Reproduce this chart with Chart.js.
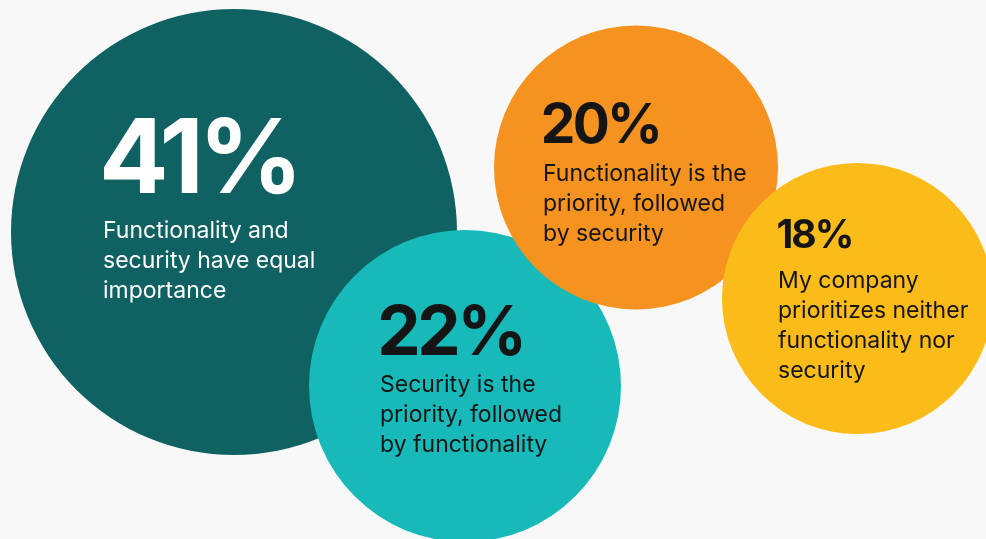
<!DOCTYPE html>
<html>
<head>
<meta charset="utf-8">
<script src="https://cdn.jsdelivr.net/npm/chart.js@4/dist/chart.umd.min.js"></script>
<style>
  html, body { margin: 0; padding: 0; background: #f8f8f8; }
  #wrap { width: 986px; height: 539px; position: relative; }
  canvas { display: block; }
</style>
</head>
<body>
<div id="wrap"><canvas id="c" width="986" height="539"></canvas></div>
<script>
// ---- data ----
const categories = [
  ["Functionality and", "security have equal", "importance"],
  ["Security is the", "priority, followed", "by functionality"],
  ["Functionality is the", "priority, followed", "by security"],
  ["My company", "prioritizes neither", "functionality nor", "security"]
];
const values = [41, 22, 20, 18];

// ---- layout (grid units = scale units, mapped through the scales) ----
const bubbleX = [234, 465, 636, 857.5];
const bubbleY = [232, 386, 167.5, 298.5];
const bubbleR = [223, 156, 142, 135.5];
const labelX  = [103, 380, 543, 778];
const labelY  = [193, 355, 143, 248];
const pctSize = [103, 69, 55, 39];
const firstGap = [45, 37, 38, 40];

// ---- styles ----
const fills = ["#0f6261", "#17bab9", "#f59220", "#fbbc19"];
const inks  = ["#ffffff", "#151515", "#151515", "#151515"];

const labelPlugin = {
  id: 'bubbleLabels',
  afterDatasetsDraw(chart) {
    const ctx = chart.ctx;
    const xs = chart.scales.x, ys = chart.scales.y;
    ctx.save();
    ctx.textAlign = 'left';
    ctx.textBaseline = 'alphabetic';
    values.forEach((v, i) => {
      const px = xs.getPixelForValue(labelX[i]);
      const py = ys.getPixelForValue(labelY[i]);
      ctx.fillStyle = inks[i];
      ctx.font = `700 ${pctSize[i]}px Inter, "Open Sans", sans-serif`;
      ctx.letterSpacing = (-0.05 * pctSize[i]).toFixed(1) + 'px';
      ctx.fillText(v + '%', px - pctSize[i] * 0.04, py);
      ctx.letterSpacing = '0px';
      ctx.font = `400 23px Inter, "Open Sans", sans-serif`;
      categories[i].forEach((line, k) => {
        const ly = ys.getPixelForValue(labelY[i] + firstGap[i] + k * 30);
        ctx.fillText(line, px, ly);
      });
    });
    ctx.restore();
  }
};

new Chart(document.getElementById('c'), {
  type: 'bubble',
  data: {
    labels: categories.map(c => c.join(' ')),
    datasets: [{
      data: values.map((v, i) => ({ x: bubbleX[i], y: bubbleY[i], r: bubbleR[i] })),
      backgroundColor: fills,
      borderWidth: 0,
      hoverRadius: 0,
      clip: false
    }]
  },
  options: {
    responsive: false,
    animation: false,
    events: [],
    layout: { padding: 0, autoPadding: false },
    plugins: { legend: { display: false }, tooltip: { enabled: false } },
    scales: {
      x: { type: 'linear', min: 0, max: 986, display: false },
      y: { type: 'linear', min: 0, max: 539, reverse: true, display: false }
    }
  },
  plugins: [labelPlugin]
});
</script>
</body>
</html>
